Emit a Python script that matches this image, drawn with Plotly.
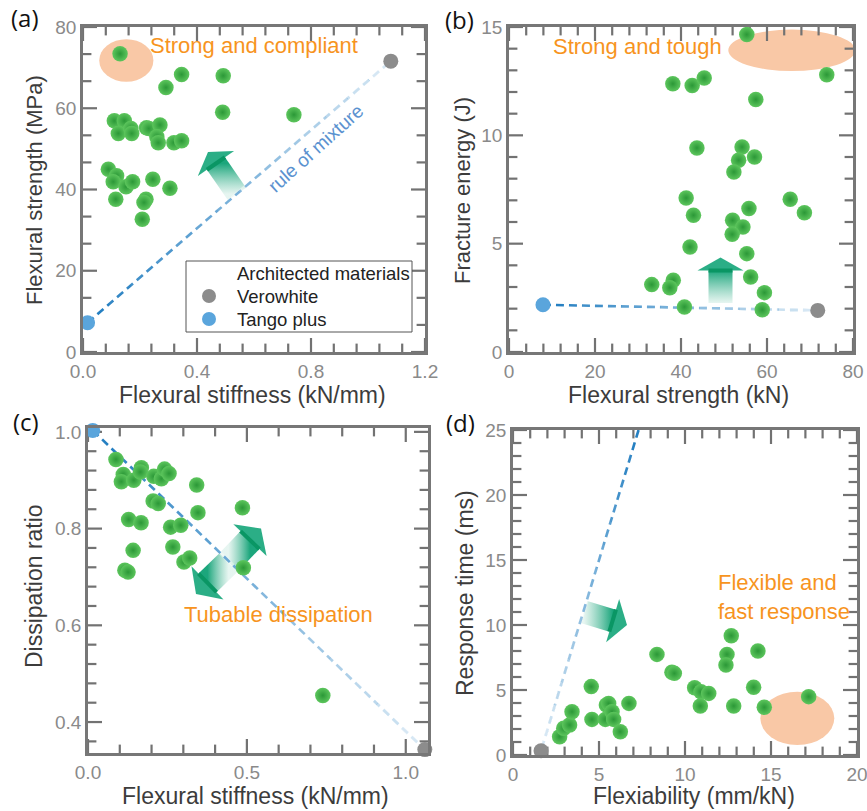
import numpy as np
import plotly.graph_objects as go

W, H = 867, 811

# ---------------- data ----------------
# (a) flexural stiffness (kN/mm) vs flexural strength (MPa)
stiffness_a = [0.130, 0.346, 0.492, 0.291, 0.490, 0.740, 0.110, 0.145, 0.124, 0.168,
               0.171, 0.223, 0.231, 0.270, 0.259, 0.264, 0.319, 0.346, 0.089, 0.118,
               0.106, 0.151, 0.174, 0.245, 0.305, 0.115, 0.221, 0.214, 0.208]
strength_a = [73.4, 68.3, 68.0, 65.1, 59.0, 58.4, 56.9, 56.9, 53.8, 55.0,
              53.8, 55.2, 55.0, 55.9, 53.0, 51.5, 51.5, 52.0, 45.0, 43.4,
              41.9, 40.7, 41.9, 42.5, 40.3, 37.6, 37.6, 36.8, 32.7]
vero_a = {"x": [1.080], "y": [71.6]}
tango_a = {"x": [0.016], "y": [7.2]}

# (b) flexural strength (kN) vs fracture energy (J)
strength_b = [55.3, 73.9, 38.1, 42.6, 45.4, 57.4, 43.7, 54.2, 53.4, 57.1,
              52.3, 41.2, 65.4, 68.7, 42.9, 55.8, 52.0, 54.4, 51.9, 42.1,
              55.3, 38.2, 33.2, 37.4, 56.2, 59.4, 40.8, 58.9]
energy_b = [14.65, 12.80, 12.38, 12.30, 12.65, 11.65, 9.42, 9.46, 8.85, 9.00,
            8.31, 7.11, 7.05, 6.43, 6.31, 6.62, 6.08, 5.77, 5.43, 4.85,
            4.54, 3.31, 3.11, 2.97, 3.46, 2.74, 2.08, 1.95]
vero_b = {"x": [71.8], "y": [1.92]}
tango_b = {"x": [7.9], "y": [2.18]}

# (c) flexural stiffness (kN/mm) vs dissipation ratio
stiffness_c = [0.088, 0.111, 0.105, 0.144, 0.168, 0.165, 0.207, 0.231, 0.241, 0.255,
               0.342, 0.205, 0.221, 0.128, 0.167, 0.346, 0.486, 0.260, 0.292, 0.142,
               0.267, 0.302, 0.320, 0.116, 0.126, 0.489, 0.739]
dissipation_c = [0.943, 0.912, 0.897, 0.900, 0.926, 0.917, 0.908, 0.903, 0.923, 0.914,
                 0.890, 0.857, 0.852, 0.819, 0.812, 0.833, 0.843, 0.803, 0.807, 0.755,
                 0.762, 0.731, 0.739, 0.714, 0.710, 0.719, 0.455]
vero_c = {"x": [1.06], "y": [0.343]}
tango_c = {"x": [0.015], "y": [1.003]}

# (d) flexibility (mm/kN) vs response time (ms)
flexibility_d = [2.71, 2.95, 3.29, 3.43, 4.55, 4.59, 5.43, 5.56, 5.37, 5.76,
                 5.85, 6.24, 6.74, 8.37, 9.24, 9.38, 10.56, 10.93, 11.38, 10.89,
                 12.69, 12.44, 12.38, 14.24, 13.99, 12.83, 14.61, 17.19]
response_d = [1.41, 2.05, 2.31, 3.33, 5.26, 2.74, 3.85, 3.97, 2.74, 3.33,
              2.74, 1.79, 3.97, 7.74, 6.36, 6.28, 5.18, 4.87, 4.74, 3.77,
              9.18, 7.74, 6.92, 8.00, 5.21, 3.77, 3.67, 4.49]
vero_d = {"x": [1.63], "y": [0.33]}
mixture_d = {"x": [7.30, 1.63], "y": [25.0, 0.33]}   # visible part of rule-of-mixture line (dark end first)

legend_labels = ["Architected materials", "Verowhite", "Tango plus"]

# ---------------- styles ----------------
FONT = "Liberation Sans, Arial, sans-serif"
GREEN_C, GREEN_E = "#5dc65d", "#2b9837"
GRAY, BLUE = "#8c8c8c", "#5aa5dc"
LINE_BLUE = "#1f7cc0"
ORANGE = "#f7941e"
PEACH = "#f9c8a6"
AXC = "#777777"
TICKC = "#727272"
TEAL = "rgb(28,166,124)"
LIGHT = "rgba(222,242,236,0.75)"

# pixel boxes of each panel (left, right, top, bottom)
boxes = {
    "a": (83, 425, 27, 352),
    "b": (509, 853, 27, 352),
    "c": (88, 428, 428, 753),
    "d": (513, 857, 430, 755),
}
ranges = {
    "a": ([0, 1.2], [0, 80]),
    "b": ([0, 80], [0, 15]),
    "c": ([0, 1.07], [0.336, 1.008]),
    "d": ([0, 20], [0, 25]),
}
ticks = {  # (major dtick, minor dtick, format) for x and y
    "a": ((0.4, 0.08, ".1f"), (20, 20 / 3, "d")),
    "b": ((20, 4, "d"), (5, 1, "d")),
    "c": ((0.5, 0.1, ".1f"), (0.2, 0.04, ".1f")),
    "d": ((5, 1, "d"), (5, 1, "d")),
}
# axis titles: (text, size, center-x px, center-y px)
xtitles = {
    "a": ("Flexural stiffness (kN/mm)", 23, 252, 395),
    "b": ("Flexural strength (kN)", 23, 678, 395),
    "c": ("Flexural stiffness (kN/mm)", 23, 255, 796),
    "d": ("Flexiability (mm/kN)", 23, 694, 796),
}
ytitles = {
    "a": ("Flexural strength (MPa)", 22, 34, 190),
    "b": ("Fracture energy (J)", 22, 462, 190),
    "c": ("Dissipation ratio", 23, 34, 586),
    "d": ("Response time (ms)", 23, 465, 593),
}
ax_ids = {"a": "", "b": "2", "c": "3", "d": "4"}


def dom(box):
    l, r, t, b = box
    return [l / W, r / W], [1 - b / H, 1 - t / H]


def to_data(k, pts):
    """convert figure-pixel points to data coordinates of panel k (for decorations)."""
    l, r, t, b = boxes[k]
    (x0, x1), (y0, y1) = ranges[k]
    xs = [x0 + (p[0] - l) / (r - l) * (x1 - x0) for p in pts]
    ys = [y1 - (p[1] - t) / (b - t) * (y1 - y0) for p in pts]
    return xs, ys


fig = go.Figure()
layout = dict(
    width=W, height=H, margin=dict(l=0, r=0, t=0, b=0),
    paper_bgcolor="white", plot_bgcolor="rgba(0,0,0,0)",
    template="none", font=dict(family=FONT), showlegend=False,
)


def axis(rng, dt, fmt, domain, anchor):
    return dict(
        domain=domain, range=rng, anchor=anchor,
        showline=True, linecolor=AXC, linewidth=2.8, mirror=True,
        ticks="", tick0=0, dtick=dt, tickformat=fmt,
        showgrid=False, zeroline=False, automargin=False, fixedrange=True,
        ticklabeloverflow="allow",
        tickfont=dict(family=FONT, size=19, color="#8a8a8a"),
    )


for k in "abcd":
    xd, yd = dom(boxes[k])
    (xdt, xmn, xf), (ydt, ymn, yf) = ticks[k]
    i = ax_ids[k]
    layout["xaxis" + i] = axis(ranges[k][0], xdt, xf, xd, "y" + i)
    layout["yaxis" + i] = axis(ranges[k][1], ydt, yf, yd, "x" + i)


# ---------- inside tick marks on all four sides (from each axis range / tick spacing) ----------
def tick_values(rng, major, minor):
    lo, hi = rng
    eps = 1e-9 * (hi - lo)
    allv = np.arange(np.ceil((lo - eps) / minor) * minor, hi + eps, minor)
    is_major = np.isclose(np.mod(allv / major + 0.5, 1.0) - 0.5, 0, atol=1e-6)
    return allv[is_major], allv[~is_major]


def add_ticks(k):
    i = ax_ids[k]
    (xr, yr) = ranges[k]
    (xdt, xmn, _), (ydt, ymn, _) = ticks[k]
    xmaj, xmin_ = tick_values(xr, xdt, xmn)
    ymaj, ymin_ = tick_values(yr, ydt, ymn)
    for vals, size in [(xmaj, 20), (xmin_, 12)]:
        fig.add_trace(go.Scatter(x=list(vals) * 2, y=[yr[0]] * len(vals) + [yr[1]] * len(vals),
                                 xaxis="x" + i, yaxis="y" + i, mode="markers", cliponaxis=True,
                                 marker=dict(symbol="line-ns", size=size, color=TICKC,
                                             line=dict(width=2.2, color=TICKC)),
                                 showlegend=False, hoverinfo="skip"))
    for vals, size in [(ymaj, 20), (ymin_, 12)]:
        fig.add_trace(go.Scatter(y=list(vals) * 2, x=[xr[0]] * len(vals) + [xr[1]] * len(vals),
                                 xaxis="x" + i, yaxis="y" + i, mode="markers", cliponaxis=True,
                                 marker=dict(symbol="line-ew", size=size, color=TICKC,
                                             line=dict(width=2.2, color=TICKC)),
                                 showlegend=False, hoverinfo="skip"))


for k in "abcd":
    add_ticks(k)


# ---------- decorative block arrows (defined in pixels, drawn in panel coords) ----------
def block_arrow(k, tail, tip, sw, hw, hl, gtype, cs):
    i = ax_ids[k]
    T, P = np.array(tail, float), np.array(tip, float)
    u = (P - T) / np.linalg.norm(P - T)
    n = np.array([-u[1], u[0]])
    B = P - u * hl
    shaft = [T + n * sw / 2, B + n * sw / 2, B - n * sw / 2, T - n * sw / 2, T + n * sw / 2]
    head = [B + n * hw / 2, P, B - n * hw / 2, B + n * hw / 2]
    sx, sy = to_data(k, shaft)
    gx, gy = to_data(k, [T, B])
    if gtype == "vertical":
        start, stop = gy
    else:
        start, stop = gx
    if start > stop:
        start, stop = stop, start
        cs = [[1 - c[0], c[1]] for c in cs][::-1]
    fig.add_trace(go.Scatter(x=sx, y=sy, xaxis="x" + i, yaxis="y" + i, mode="lines", fill="toself",
                             line=dict(width=0),
                             fillgradient=dict(type=gtype, colorscale=cs, start=start, stop=stop),
                             showlegend=False, hoverinfo="skip"))
    hx, hy = to_data(k, head)
    fig.add_trace(go.Scatter(x=hx, y=hy, xaxis="x" + i, yaxis="y" + i, mode="lines", fill="toself",
                             line=dict(width=0), fillcolor="rgba(32,170,128,0.95)",
                             showlegend=False, hoverinfo="skip"))
    bx, by = to_data(k, [B + n * sw / 2, B - n * sw / 2])
    fig.add_trace(go.Scatter(x=bx, y=by, xaxis="x" + i, yaxis="y" + i, mode="lines",
                             line=dict(width=4, color="rgb(10,150,100)"), showlegend=False, hoverinfo="skip"))


CS = [[0, LIGHT], [1, TEAL]]   # tail -> head
block_arrow("a", (237, 194), (208, 152), 22, 44, 14, "vertical", CS)
block_arrow("b", (720.5, 303), (720.5, 257.5), 24, 46, 13, "vertical", CS)
block_arrow("d", (584, 612), (627, 625), 23, 45, 15, "horizontal", CS)
mid = (228.5, 562.5)
block_arrow("c", mid, (261, 528.5), 26, 46, 16, "horizontal", CS)
block_arrow("c", mid, (196, 594), 26, 46, 16, "horizontal", CS)


# ---------- rule-of-mixture dashed lines (dark -> faded) ----------
def mixture_line(xs, ys, i):
    fig.add_trace(go.Scatter(x=xs, y=ys, xaxis="x" + i, yaxis="y" + i, mode="lines",
                             line=dict(color=LINE_BLUE, width=2.6, dash="8px,5px"),
                             showlegend=False, hoverinfo="skip"))
    n = 14
    t = np.linspace(0, 1, n + 1)
    px = xs[0] + (xs[1] - xs[0]) * t
    py = ys[0] + (ys[1] - ys[0]) * t
    for j in range(n):
        a = 0.85 * (j + 0.5) / n
        fig.add_trace(go.Scatter(x=[px[j], px[j + 1]], y=[py[j], py[j + 1]], xaxis="x" + i, yaxis="y" + i,
                                 mode="lines", line=dict(color=f"rgba(255,255,255,{a:.3f})", width=3.6),
                                 showlegend=False, hoverinfo="skip"))


mixture_line([tango_a["x"][0], vero_a["x"][0]], [tango_a["y"][0], vero_a["y"][0]], "")
mixture_line([tango_b["x"][0], vero_b["x"][0]], [tango_b["y"][0], vero_b["y"][0]], "2")
mixture_line([tango_c["x"][0], vero_c["x"][0]], [tango_c["y"][0], vero_c["y"][0]], "3")
mixture_line(mixture_d["x"], mixture_d["y"], "4")

# ---------- base materials ----------
for v, t_, i in [(vero_a, tango_a, ""), (vero_b, tango_b, "2"), (vero_c, tango_c, "3")]:
    fig.add_trace(go.Scatter(x=v["x"], y=v["y"], mode="markers", marker=dict(size=15, color=GRAY),
                             name="Verowhite", xaxis="x" + i, yaxis="y" + i, showlegend=False, cliponaxis=False))
    fig.add_trace(go.Scatter(x=t_["x"], y=t_["y"], mode="markers", marker=dict(size=15, color=BLUE),
                             name="Tango plus", xaxis="x" + i, yaxis="y" + i, showlegend=False, cliponaxis=False))
fig.add_trace(go.Scatter(x=vero_d["x"], y=vero_d["y"], mode="markers", marker=dict(size=15, color=GRAY),
                         name="Verowhite", xaxis="x4", yaxis="y4", showlegend=False, cliponaxis=False))

# ---------- architected materials (green spheres) ----------
sets = {"a": (stiffness_a, strength_a), "b": (strength_b, energy_b),
        "c": (stiffness_c, dissipation_c), "d": (flexibility_d, response_d)}
for k, (xs, ys) in sets.items():
    i = ax_ids[k]
    fig.add_trace(go.Scatter(x=xs, y=ys, mode="markers", xaxis="x" + i, yaxis="y" + i,
                             name="Architected materials",
                             marker=dict(size=15.5, color=GREEN_C, line=dict(width=0),
                                         gradient=dict(type="radial", color=GREEN_E)),
                             showlegend=False, hoverinfo="skip"))

# ---------- highlight ellipses ----------
shapes = [
    dict(type="circle", xref="x", yref="y", x0=0.057, x1=0.247, y0=66.5, y1=77.0,
         fillcolor=PEACH, line=dict(width=0), layer="below"),
    dict(type="circle", xref="x2", yref="y2", x0=51.0, x1=80.5, y0=12.97, y1=14.88,
         fillcolor=PEACH, line=dict(width=0), layer="below"),
    dict(type="circle", xref="x4", yref="y4", x0=14.38, x1=18.68, y0=0.77, y1=4.87,
         fillcolor=PEACH, line=dict(width=0), layer="below"),
]


def pbox(x0, y0, x1, y1):
    return dict(x0=x0 / W, x1=x1 / W, y0=1 - y1 / H, y1=1 - y0 / H, xref="paper", yref="paper")


# legend (panel a), drawn with shapes + text to match the compact row spacing
shapes.append(dict(type="rect", **pbox(186, 261, 412, 332), fillcolor="white",
                   line=dict(color="#555555", width=1), layer="above"))
legend_rows = [(273, None), (296, GRAY), (319, BLUE)]
for (ry, col) in legend_rows:
    if col:
        shapes.append(dict(type="circle", **pbox(202, ry - 7, 216, ry + 7), fillcolor=col,
                           line=dict(width=0), layer="above"))

ann = []
for lab, (ry, _) in zip(legend_labels, legend_rows):
    ann.append(dict(text=lab, x=235 / W, y=1 - ry / H, xref="paper", yref="paper", showarrow=False,
                    xanchor="left", yanchor="middle", font=dict(family=FONT, size=18.5, color="#222222")))

# ---------- text ----------
ann += [
    dict(text="Strong and compliant", x=0.60, y=75.4, xref="x", yref="y", showarrow=False,
         xanchor="center", yanchor="middle", font=dict(family=FONT, size=22, color=ORANGE)),
    dict(text="rule of mixture", x=0.8165, y=50.0, xref="x", yref="y", showarrow=False, textangle=-42,
         xanchor="center", yanchor="middle", font=dict(family=FONT, size=19, color="#5b92d0")),
    dict(text="Strong and tough", x=29.8, y=14.09, xref="x2", yref="y2", showarrow=False,
         xanchor="center", yanchor="middle", font=dict(family=FONT, size=22, color=ORANGE)),
    dict(text="Tubable dissipation", x=0.601, y=0.623, xref="x3", yref="y3", showarrow=False,
         xanchor="center", yanchor="middle", font=dict(family=FONT, size=22, color=ORANGE)),
    dict(text="Flexible and<br>fast response", x=11.82, y=12.15, xref="x4", yref="y4", showarrow=False,
         xanchor="left", yanchor="middle", align="left", font=dict(family=FONT, size=22, color=ORANGE)),
]
for k in "abcd":
    t, s, cx, cy = xtitles[k]
    ann.append(dict(text=t, x=cx / W, y=1 - cy / H, xref="paper", yref="paper", showarrow=False,
                    xanchor="center", yanchor="middle", font=dict(family=FONT, size=s, color="#3c3c3c")))
    t, s, cx, cy = ytitles[k]
    ann.append(dict(text=t, x=cx / W, y=1 - cy / H, xref="paper", yref="paper", showarrow=False,
                    textangle=-90, xanchor="center", yanchor="middle",
                    font=dict(family=FONT, size=s, color="#3c3c3c")))
for lab, (cx, cy) in {"(a)": (25, 17.5), "(b)": (459, 19), "(c)": (25.5, 421), "(d)": (460.5, 422)}.items():
    ann.append(dict(text=lab, x=cx / W, y=1 - cy / H, xref="paper", yref="paper", showarrow=False,
                    xanchor="center", yanchor="middle",
                    font=dict(family="Open Sans, Liberation Sans, sans-serif", size=24, color="#111111")))

layout["shapes"] = shapes
layout["annotations"] = ann
fig.update_layout(**layout)
fig.write_html("out.html")
